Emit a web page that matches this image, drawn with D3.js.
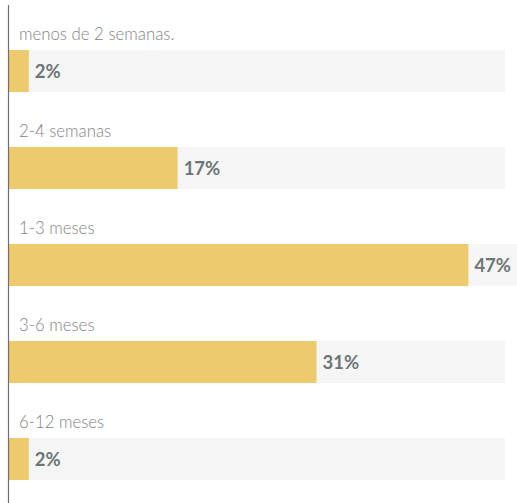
<!DOCTYPE html>
<html><head><meta charset="utf-8">
<script src="https://cdn.jsdelivr.net/npm/d3@7"></script>
<style>html,body{margin:0;padding:0;background:#fff;}</style>
</head><body>
<svg id="c" width="517" height="503"></svg>
<script>
const categories = ["menos de 2 semanas.", "2-4 semanas", "1-3 meses", "3-6 meses", "6-12 meses"];
const values = [2, 17, 47, 31, 2];
const valueLabels = ["2%", "17%", "47%", "31%", "2%"];

const W = 517, H = 503;
const left = 9, trackW = 496, rowTop = 50, pitch = 97, barH = 42;
const svg = d3.select("#c");

const x = d3.scaleLinear().domain([0, 50]).range([0, trackW]);
const y = d3.scaleBand().domain(categories).range([rowTop, rowTop + pitch * categories.length]).paddingInner(0).paddingOuter(0);

const rows = svg.selectAll("g.row").data(categories).join("g").attr("class", "row")
  .attr("transform", d => `translate(0,${y(d)})`);

rows.each(function(d, i) {
  const g = d3.select(this);
  const bg = g.append("rect").attr("x", left).attr("y", 0).attr("height", barH).attr("fill", "#f5f5f5");
  const bar = g.append("rect").attr("x", left).attr("y", 0).attr("height", barH).attr("fill", "#eeca6e");
  const t = g.append("text").attr("y", barH / 2 + 7)
    .attr("font-family", "Lato, 'Open Sans', sans-serif").attr("font-weight", 700)
    .attr("font-size", 18.5).attr("fill", "#6c7577").text(valueLabels[i]);
  const lw = t.node().getComputedTextLength();
  const pad = 6;
  let bw = x(values[i]);
  bw = Math.min(bw, W - left - lw - pad - 6);
  bar.attr("width", bw);
  t.attr("x", left + bw + pad);
  bg.attr("width", Math.max(trackW, bw + pad + lw + 6));
  g.append("text").attr("x", 19).attr("y", -10)
    .attr("font-family", "Lato, 'Open Sans', sans-serif").attr("font-weight", 300)
    .attr("font-size", 16.8).attr("fill", "#828282").text(d);
});

svg.append("line").attr("x1", 8.5).attr("x2", 8.5).attr("y1", 5).attr("y2", H)
  .attr("stroke", "#6f6f6f").attr("stroke-width", 1.2);
</script>
</body></html>
